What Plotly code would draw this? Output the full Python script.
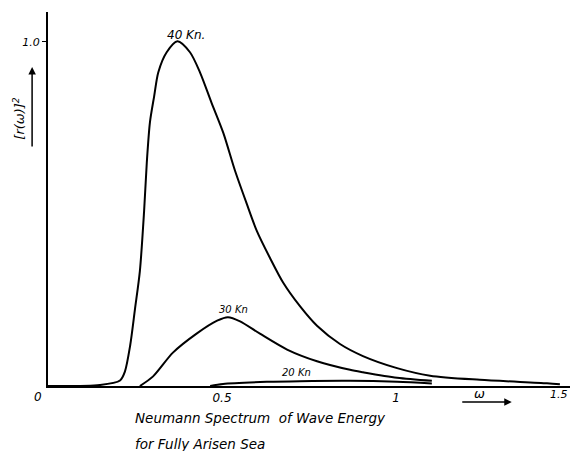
import plotly.graph_objects as go

# Data (omega, [r(omega)]^2)
w40 = [0.0, 0.149, 0.207, 0.221, 0.236, 0.250, 0.264, 0.276, 0.284, 0.293, 0.305, 0.317,
       0.341, 0.372, 0.408, 0.437, 0.470, 0.504, 0.537, 0.571, 0.600, 0.638, 0.676, 0.724,
       0.773, 0.839, 0.905, 1.003, 1.098, 1.241, 1.434, 1.471]
r40 = [0.0, 0.003, 0.016, 0.042, 0.117, 0.224, 0.334, 0.506, 0.651, 0.767, 0.842, 0.912,
       0.970, 1.002, 0.970, 0.911, 0.823, 0.735, 0.627, 0.530, 0.451, 0.372, 0.300, 0.232,
       0.175, 0.122, 0.087, 0.052, 0.030, 0.018, 0.008, 0.005]

w30 = [0.264, 0.302, 0.359, 0.428, 0.486, 0.517, 0.552, 0.609, 0.687, 0.773, 0.868, 0.905,
       1.003, 1.103]
r30 = [0.0, 0.028, 0.097, 0.153, 0.19, 0.2, 0.188, 0.152, 0.106, 0.072, 0.047, 0.040,
       0.024, 0.015]

w20 = [0.466, 0.503, 0.629, 0.724, 0.868, 1.003, 1.103]
r20 = [0.0, 0.006, 0.012, 0.014, 0.015, 0.012, 0.007]

x_tickvals = [0.5, 1, 1.5]
x_ticktext = ["0.5", "1", "1.5"]
y_tickvals = [1.0]
y_ticktext = ["1.0"]

FONT = "DejaVu Sans"
line_style = dict(color="black", width=2, shape="spline", smoothing=0.8)

fig = go.Figure()
for w, r, name in [(w40, r40, "40 Kn."), (w30, r30, "30 Kn"), (w20, r20, "20 Kn")]:
    fig.add_trace(go.Scatter(x=w, y=r, mode="lines", line=line_style, name=name,
                             showlegend=False, hoverinfo="skip"))

ann_font = dict(family=FONT, size=11, color="black", style="italic")
P = dict(xref="paper", yref="paper", showarrow=False, xanchor="center", yanchor="middle")
anns = [
    dict(x=0.397, y=1.02, text="40 Kn.", showarrow=False, font=dict(ann_font, size=12)),
    dict(x=0.532, y=0.223, text="30 Kn", showarrow=False, font=dict(ann_font, size=10)),
    dict(x=0.713, y=0.040, text="20 Kn", showarrow=False, font=dict(ann_font, size=10)),
    dict(P, x=-0.019, y=-0.029, text="0", font=dict(ann_font, size=12)),
    dict(P, x=0.984, y=-0.024, text=x_ticktext[2], font=dict(ann_font, size=11),
         xanchor="right"),
    dict(P, x=0.815, y=-0.021, text="ω", font=dict(ann_font, size=13)),
    # omega arrow
    dict(xref="paper", yref="paper", x=0.875, y=-0.043, ax=-51, ay=0, text="",
         showarrow=True, arrowhead=2, arrowsize=1, arrowwidth=1.5, arrowcolor="black"),
    # y-axis title and arrow
    dict(P, x=-0.055, y=0.717, text="[r(ω)]<sup>2</sup>", textangle=-90,
         font=dict(ann_font, size=13)),
    dict(xref="paper", yref="paper", x=-0.030, y=0.853, ax=0, ay=81, text="",
         showarrow=True, arrowhead=2, arrowsize=1, arrowwidth=1.5, arrowcolor="black"),
    # caption
    dict(P, x=0.160, y=-0.086, text="Neumann Spectrum  of Wave Energy",
         font=dict(ann_font, size=13.5), xanchor="left"),
    dict(P, x=0.160, y=-0.155, text="for Fully Arisen Sea",
         font=dict(ann_font, size=13.5), xanchor="left"),
]

# the page body has an 8 px margin, so the figure is made 8 px smaller
fig.update_layout(
    width=570, height=443,
    margin=dict(l=40, r=0, t=4, b=65),
    paper_bgcolor="white", plot_bgcolor="white",
    font=dict(family=FONT, color="black", style="italic"),
    annotations=anns,
    xaxis=dict(range=[0, 1.523], showgrid=False, zeroline=False, showline=True,
               linecolor="black", linewidth=2, tickvals=x_tickvals[:2],
               ticktext=x_ticktext[:2], ticks="", tickfont=dict(size=12, style="italic")),
    yaxis=dict(range=[0, 1.087], showgrid=False, zeroline=False, showline=True,
               linecolor="black", linewidth=2, tickvals=y_tickvals, ticktext=y_ticktext,
               ticks="outside", ticklen=4, tickcolor="black",
               tickfont=dict(size=11, style="italic")),
)

fig.write_html("out.html")
